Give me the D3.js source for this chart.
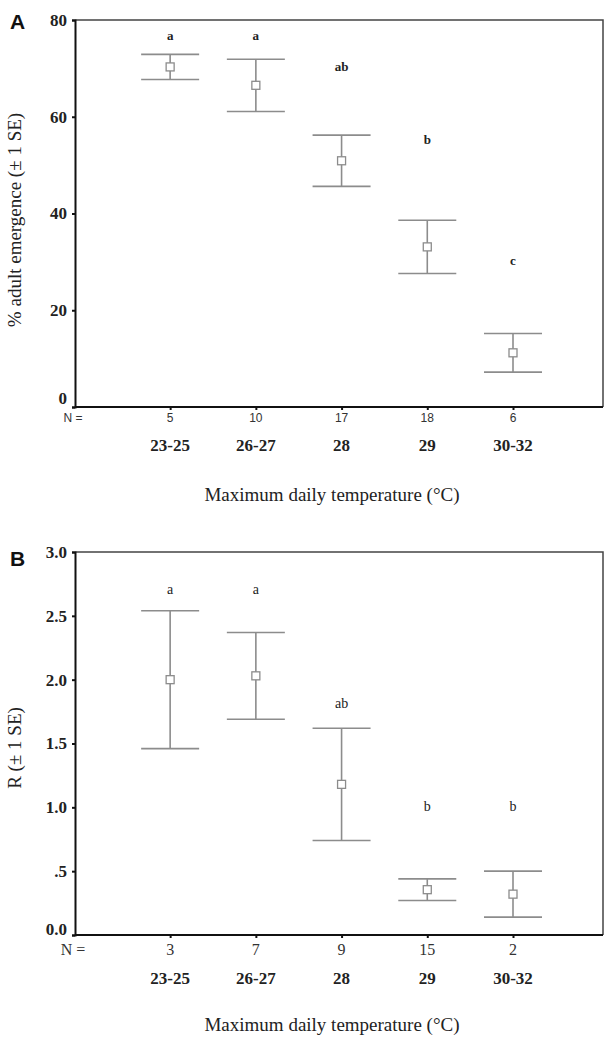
<!DOCTYPE html>
<html>
<head>
<meta charset="utf-8">
<script src="https://cdn.jsdelivr.net/npm/d3@7"></script>
<style>
  body { margin: 0; background: #fff; }
</style>
</head>
<body>
<svg id="draw" width="605" height="1038"></svg>
<script>
// ---- data ----
var tempLabels = ["23-25", "26-27", "28", "29", "30-32"];

// panel A: % adult emergence
var emergMean = [70.3, 66.5, 50.9, 33.1, 11.2];
var emergSE = [2.6, 5.4, 5.3, 5.5, 4.0];
var emergN = [5, 10, 17, 18, 6];
var emergLetters = ["a", "a", "ab", "b", "c"];
var emergLetterY = [76.5, 76.5, 70, 55, 30];
var emergTicks = [0, 20, 40, 60, 80];

// panel B: R
var rMean = [2.0, 2.03, 1.18, 0.355, 0.32];
var rSE = [0.54, 0.34, 0.44, 0.085, 0.18];
var rN = [3, 7, 9, 15, 2];
var rLetters = ["a", "a", "ab", "b", "b"];
var rLetterY = [2.70, 2.70, 1.80, 1.00, 1.00];
var rTicks = [0, 0.5, 1, 1.5, 2, 2.5, 3];

// ============================================================================

var svg = d3.select("#draw");
var barColor = "#8c8c8c";
var serif = "'Liberation Serif', 'DejaVu Serif', serif";
var sans = "'Liberation Sans', Arial, sans-serif";

function drawPanel(p) {
    var g = svg.append("g");
    var xScale = d3.scaleLinear()
        .domain([-1.11, 5.05])
        .range([75, 603]);
    var yScale = d3.scaleLinear()
        .domain(p.yDomain)
        .range([p.bottom, p.top]);
    var rows = tempLabels.map((t, i) => ({
        label: t, mean: p.mean[i], se: p.se[i], n: p.n[i],
        letter: p.letters[i], ly: p.letterY[i], i: i
    }));

    // frame (top / right)
    g.append("path")
        .attr("d", `M75,${p.top}H603V${p.bottom}`)
        .attr("fill", "none")
        .attr("stroke", "#444")
        .attr("stroke-width", 1.5);

    // y axis
    var yAxis = d3.axisLeft(yScale)
        .tickValues(p.ticks)
        .tickSize(3)
        .tickPadding(5)
        .tickFormat(p.fmt);
    var ya = g.append("g")
        .attr("transform", "translate(75,0)")
        .call(yAxis);
    ya.select(".domain").attr("stroke", "#111").attr("stroke-width", 2);
    ya.selectAll(".tick line").attr("stroke", "#111").attr("stroke-width", 2);
    ya.selectAll(".tick text")
        .style("font-family", serif)
        .style("font-weight", "bold")
        .style("font-size", "17px")
        .attr("fill", "#222")
        .attr("dy", (d) => d === 0 ? p.zeroDy : "0.32em");

    // x axis (ticks only; labels drawn as N row + category row)
    var xAxis = d3.axisBottom(xScale)
        .tickValues(d3.range(tempLabels.length))
        .tickSize(3)
        .tickFormat("");
    var xa = g.append("g")
        .attr("transform", `translate(0,${p.bottom})`)
        .call(xAxis);
    xa.select(".domain").attr("d", "M75,0H603").attr("stroke", "#111").attr("stroke-width", 2);
    xa.selectAll(".tick line").attr("stroke", "#111").attr("stroke-width", 2);

    // N row
    g.append("text")
        .attr("x", 73).attr("y", p.nY)
        .attr("text-anchor", "middle")
        .attr("dominant-baseline", "middle")
        .style("font-family", p.nFont)
        .style("font-size", p.nSize + "px")
        .attr("fill", "#333")
        .text("N =");
    g.selectAll("text.n")
        .data(rows)
        .enter()
        .append("text")
        .attr("class", "n")
        .attr("x", (d) => xScale(d.i))
        .attr("y", p.nY)
        .attr("text-anchor", "middle")
        .attr("dominant-baseline", "middle")
        .style("font-family", p.nFont)
        .style("font-size", p.nSize + "px")
        .attr("fill", "#333")
        .text((d) => d.n);

    // category labels
    g.selectAll("text.cat")
        .data(rows)
        .enter()
        .append("text")
        .attr("class", "cat")
        .attr("x", (d) => xScale(d.i))
        .attr("y", p.catY)
        .attr("text-anchor", "middle")
        .attr("dominant-baseline", "middle")
        .style("font-family", serif)
        .style("font-weight", "bold")
        .style("font-size", "17px")
        .attr("fill", "#222")
        .text((d) => d.label);

    // error bars
    var bars = g.selectAll("g.bar")
        .data(rows)
        .enter()
        .append("g")
        .attr("class", "bar");
    bars.append("line")
        .attr("x1", (d) => xScale(d.i)).attr("x2", (d) => xScale(d.i))
        .attr("y1", (d) => yScale(d.mean + d.se))
        .attr("y2", (d) => yScale(d.mean - d.se))
        .attr("stroke", barColor).attr("stroke-width", 1.6);
    [1, -1].forEach(function (s) {
        bars.append("line")
            .attr("x1", (d) => xScale(d.i) - 29).attr("x2", (d) => xScale(d.i) + 29)
            .attr("y1", (d) => yScale(d.mean + s * d.se))
            .attr("y2", (d) => yScale(d.mean + s * d.se))
            .attr("stroke", barColor).attr("stroke-width", 1.6);
    });
    bars.append("rect")
        .attr("x", (d) => xScale(d.i) - 4)
        .attr("y", (d) => yScale(d.mean) - 4)
        .attr("width", 8).attr("height", 8)
        .attr("fill", "#fff")
        .attr("stroke", barColor).attr("stroke-width", 1.3);

    // significance letters
    g.selectAll("text.letter")
        .data(rows)
        .enter()
        .append("text")
        .attr("class", "letter")
        .attr("x", (d) => xScale(d.i))
        .attr("y", (d) => yScale(d.ly))
        .attr("text-anchor", "middle")
        .attr("dominant-baseline", "middle")
        .style("font-family", serif)
        .style("font-weight", p.letterWeight)
        .style("font-size", p.letterSize + "px")
        .attr("fill", "#222")
        .text((d) => d.letter);

    // axis titles
    g.append("text")
        .attr("transform", `translate(17,${p.yTitleY}) rotate(-90)`)
        .attr("text-anchor", "middle")
        .attr("dominant-baseline", "middle")
        .style("font-family", serif)
        .style("font-size", "19px")
        .attr("fill", "#222")
        .text(p.yTitle);
    g.append("text")
        .attr("x", 332).attr("y", p.xTitleY)
        .attr("text-anchor", "middle")
        .attr("dominant-baseline", "middle")
        .style("font-family", serif)
        .style("font-size", "19px")
        .attr("fill", "#222")
        .text("Maximum daily temperature (°C)");

    // panel letter
    g.append("text")
        .attr("x", 10).attr("y", p.panelY)
        .style("font-family", sans)
        .style("font-weight", "bold")
        .style("font-size", "21px")
        .attr("fill", "#111")
        .text(p.panel);
}

drawPanel({
    panel: "A", panelY: 29,
    top: 20, bottom: 407, yDomain: [0, 80],
    ticks: emergTicks, fmt: d3.format("d"), zeroDy: "-0.2em",
    mean: emergMean, se: emergSE, n: emergN,
    letters: emergLetters, letterY: emergLetterY, letterWeight: "bold", letterSize: 13,
    nY: 419, nFont: sans, nSize: 12,
    catY: 447, xTitleY: 497,
    yTitle: "% adult emergence (± 1 SE)", yTitleY: 220
});

drawPanel({
    panel: "B", panelY: 566,
    top: 552, bottom: 935, yDomain: [0, 3],
    ticks: rTicks, fmt: (d) => d === 0.5 ? ".5" : d3.format(".1f")(d), zeroDy: "-0.05em",
    mean: rMean, se: rSE, n: rN,
    letters: rLetters, letterY: rLetterY, letterWeight: "normal", letterSize: 14,
    nY: 951, nFont: serif, nSize: 16,
    catY: 980, xTitleY: 1027,
    yTitle: "R (± 1 SE)", yTitleY: 748
});
</script>
</body>
</html>
